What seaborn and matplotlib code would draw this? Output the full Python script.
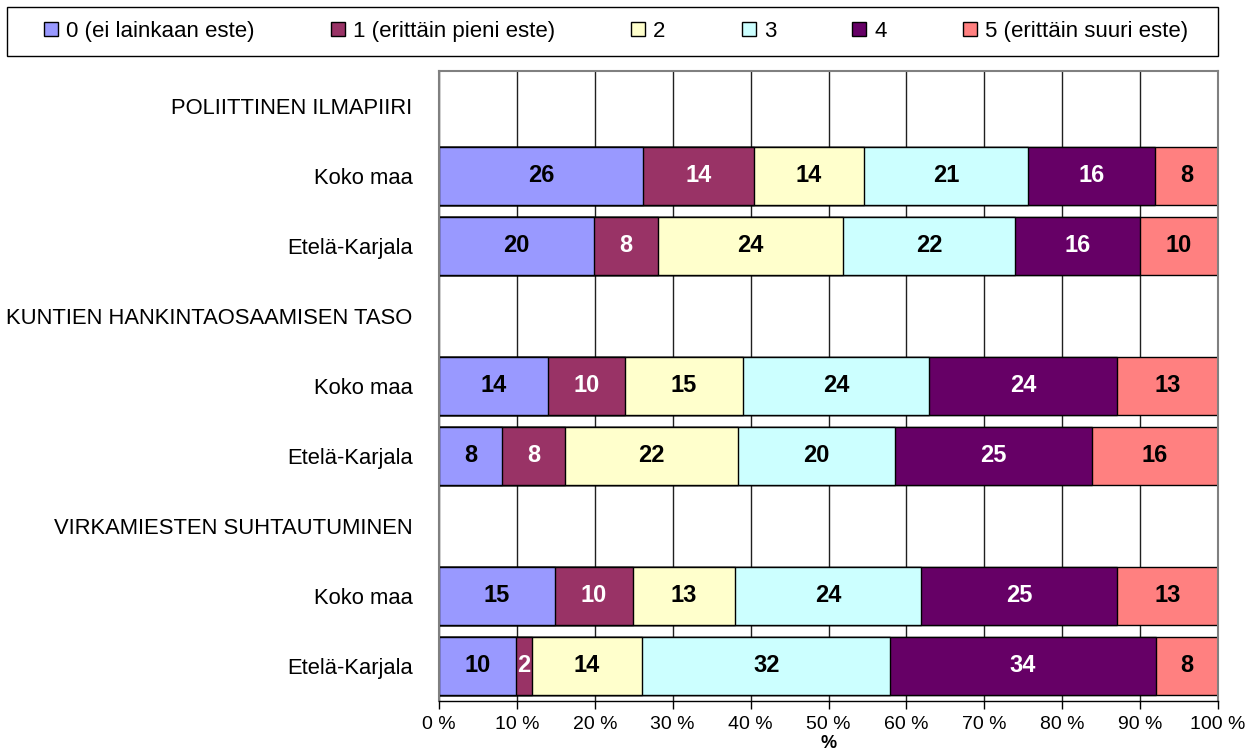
import pandas as pd
import numpy as np
import matplotlib
matplotlib.use('Agg')
import matplotlib.pyplot as plt
import seaborn as sns
from matplotlib.patches import Patch, Rectangle

# Luokat (legendan tekstit) ja värit
categories = ['0 (ei lainkaan este)', '1 (erittäin pieni este)', '2', '3', '4',
              '5 (erittäin suuri este)']
colors = ['#9999FF', '#993366', '#FFFFCC', '#CCFFFF', '#660066', '#FF8080']

# Rivit ylhäältä alas (otsikkorivit ilman palkkeja)
row_labels = ['POLIITTINEN ILMAPIIRI', 'Koko maa', 'Etelä-Karjala',
              'KUNTIEN HANKINTAOSAAMISEN TASO', 'Koko maa', 'Etelä-Karjala',
              'VIRKAMIESTEN SUHTAUTUMINEN', 'Koko maa', 'Etelä-Karjala']
data_rows = [1, 2, 4, 5, 7, 8]

# Osuudet (%) kullekin datariville
cat0 = [26.2, 19.9, 14.0, 8.1, 14.9, 9.9]
cat1 = [14.2, 8.2, 9.9, 8.1, 10.0, 2.0]
cat2 = [14.2, 23.8, 15.1, 22.2, 13.1, 14.2]
cat3 = [21.0, 22.0, 23.9, 20.1, 23.9, 31.8]
cat4 = [16.3, 16.1, 24.1, 25.3, 25.1, 34.1]
cat5 = [8.1, 10.0, 13.0, 16.2, 13.0, 8.0]

# %%
sns.set_style('white')
plt.rcParams['font.family'] = ['Liberation Sans', 'DejaVu Sans']
plt.rcParams['text.color'] = 'black'
plt.rcParams['axes.labelcolor'] = 'black'
plt.rcParams['xtick.color'] = 'black'
plt.rcParams['ytick.color'] = 'black'

vals = np.array([cat0, cat1, cat2, cat3, cat4, cat5])
vals = vals / vals.sum(axis=0) * 100
cum = vals.cumsum(axis=0)

row_ids = [f'r{i}' for i in range(len(row_labels))]
ids = [row_ids[i] for i in data_rows]

fig = plt.figure(figsize=(12.51, 7.54), dpi=100)
ax = fig.add_axes([439 / 1251, 1 - 701 / 754, 779 / 1251, 630 / 754])

ax.set_axisbelow(True)
ax.grid(True, axis='x', color='#202020', linewidth=1)

# Pinotut palkit: piirretään kumulatiiviset summat suurimmasta pienimpään
for k in reversed(range(len(categories))):
    df = pd.DataFrame({'row': ids, 'cum': cum[k]})
    sns.barplot(data=df, x='cum', y='row', order=row_ids, orient='h',
                color=colors[k], saturation=1, width=0.83, edgecolor='black',
                linewidth=1, errorbar=None, ax=ax)

# Arvot palkkien keskelle
for k in range(len(categories)):
    txt_color = 'white' if k in (1, 4) else 'black'
    for j, i in enumerate(data_rows):
        left = cum[k][j] - vals[k][j]
        ax.text(left + vals[k][j] / 2, i, f'{vals[k][j]:.0f}', ha='center',
                va='center', fontsize=17, fontweight='bold', color=txt_color)

ax.set_xlim(0, 100)
ax.set_xticks(np.arange(0, 101, 10))
ax.set_xticklabels([f'{t} %' for t in range(0, 101, 10)], fontsize=14)
ax.set_yticks(range(len(row_labels)))
ax.set_yticklabels(row_labels, fontsize=15.8)
ax.set_ylabel('')
ax.set_xlabel('%', fontsize=13, fontweight='bold', labelpad=1)
ax.tick_params(axis='x', length=6, width=1, color='black', pad=5, direction='out',
               bottom=True, labelcolor='black')
ax.tick_params(axis='y', length=0, pad=19, labelcolor='black')

for s in ['left', 'top', 'right']:
    ax.spines[s].set_color('#808080')
    ax.spines[s].set_linewidth(1.5)
ax.spines['bottom'].set_color('black')
ax.spines['bottom'].set_linewidth(1)

# Legenda kehyksineen
fig.patches.append(Rectangle((7 / 1251, 1 - 56 / 754), 1211 / 1251, 49 / 754,
                             transform=fig.transFigure, fill=False,
                             edgecolor='black', linewidth=1))
handles = [Patch(facecolor=c, edgecolor='black', linewidth=1) for c in colors]
leg = fig.legend(handles, categories, loc='center', ncol=6, mode='expand',
                 bbox_to_anchor=(44 / 1251, 1 - 56 / 754, 1144 / 1251, 49 / 754),
                 fontsize=16, frameon=False, handlelength=0.63,
                 handleheight=0.63, handletextpad=0.36, borderaxespad=0,
                 borderpad=0, labelcolor='black')

plt.savefig('out.png', dpi=100)
